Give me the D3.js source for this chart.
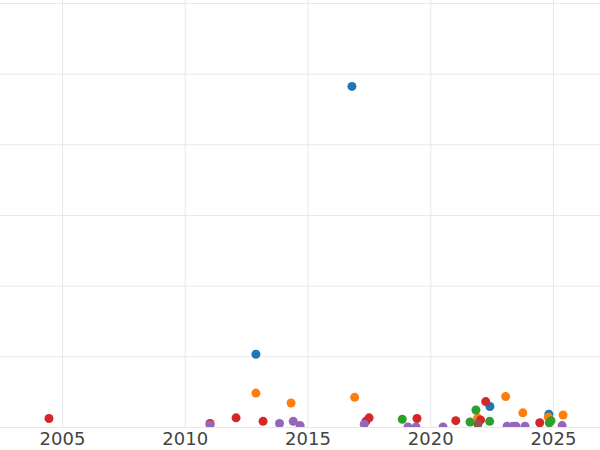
<!DOCTYPE html>
<html>
  <head>
    <meta charset="UTF-8" />
    <script src="https://cdnjs.cloudflare.com/ajax/libs/d3/7.8.5/d3.min.js"></script>
    <style>
      body {
        margin: 0;
        background: #fff;
      }
      .grid line {
        stroke: #e8e8e8;
        stroke-width: 1;
      }
      .grid path.domain {
        stroke: none;
      }
      .x.axis text {
        fill: #444;
        font-family: "DejaVu Sans", sans-serif;
        font-size: 18px;
      }
      .x.axis line,
      .x.axis path.domain {
        stroke: none;
      }
    </style>
  </head>
  <body>
    <svg id="chart" width="600" height="450"></svg>
    <script>
      // years and values, one pair of arrays per series
      const blueYears = [2016.81, 2012.9, 2022.43, 2024.83];
      const blueValues = [482, 103, 29, 18];

      const orangeYears = [2012.9, 2014.33, 2016.92, 2021.93, 2023.07, 2023.77, 2024.81, 2025.41];
      const orangeValues = [48, 34, 42, 13, 43, 20, 14, 17];

      const greenYears = [2018.86, 2021.86, 2021.62, 2022.42, 2024.85, 2024.92];
      const greenValues = [11, 24, 7, 8, 6, 9];

      const redYears = [2004.47, 2011.03, 2012.09, 2013.19, 2017.38, 2017.51, 2019.46, 2021.04, 2022.26, 2022.05, 2024.46];
      const redValues = [12, 5, 13, 8, 8, 13, 12, 9, 36, 10, 6];

      const purpleYears = [2011.03, 2013.86, 2014.42, 2014.7, 2017.31, 2019.09, 2019.42, 2020.52,
        2023.13, 2023.37, 2023.49, 2023.86, 2025.37];
      const purpleValues = [3, 5, 8, 2, 4, 0, 0, 0, 1, 1, 1, 1, 2];

      const brownYears = [2021.94];
      const brownValues = [4];

      const series = [
        { color: "#1f77b4", years: blueYears, values: blueValues },
        { color: "#ff7f0e", years: orangeYears, values: orangeValues },
        { color: "#2ca02c", years: greenYears, values: greenValues },
        { color: "#d62728", years: redYears, values: redValues },
        { color: "#9467bd", years: purpleYears, values: purpleValues },
        { color: "#8c564b", years: brownYears, values: brownValues }
      ];

      const xTicks = [2005, 2010, 2015, 2020, 2025];
      const yTicks = [0, 100, 200, 300, 400, 500, 600];

      const plotBottom = 427;

      const svg = d3.select("#chart");

      const xScale = d3.scaleLinear().domain([2002.475, 2026.914]).range([0, 600]);
      const yScale = d3.scaleLinear().domain([0, 600]).range([plotBottom, 3]);

      svg.append("defs")
        .append("clipPath")
        .attr("id", "plot-clip")
        .append("rect")
        .attr("x", 0)
        .attr("y", 0)
        .attr("width", 600)
        .attr("height", plotBottom);

      // horizontal grid
      svg.append("g")
        .attr("class", "grid")
        .call(d3.axisLeft(yScale).tickValues(yTicks).tickSize(-600).tickFormat(""))
        .selectAll("line")
        .attr("x1", 0)
        .attr("x2", 600);

      // vertical grid
      svg.append("g")
        .attr("class", "grid")
        .attr("transform", "translate(0," + plotBottom + ")")
        .call(d3.axisBottom(xScale).tickValues(xTicks).tickSize(-plotBottom).tickFormat(""));

      const points = svg.append("g").attr("clip-path", "url(#plot-clip)");

      series.forEach(s => {
        points.append("g")
          .selectAll("circle")
          .data(d3.zip(s.years, s.values))
          .enter()
          .append("circle")
          .attr("cx", d => xScale(d[0]))
          .attr("cy", d => yScale(d[1]))
          .attr("r", 4.5)
          .style("fill", s.color);
      });

      svg.append("g")
        .attr("class", "x axis")
        .attr("transform", "translate(0," + plotBottom + ")")
        .call(d3.axisBottom(xScale).tickValues(xTicks).tickSize(0).tickPadding(5).tickFormat(d3.format("d")));
    </script>
  </body>
</html>
